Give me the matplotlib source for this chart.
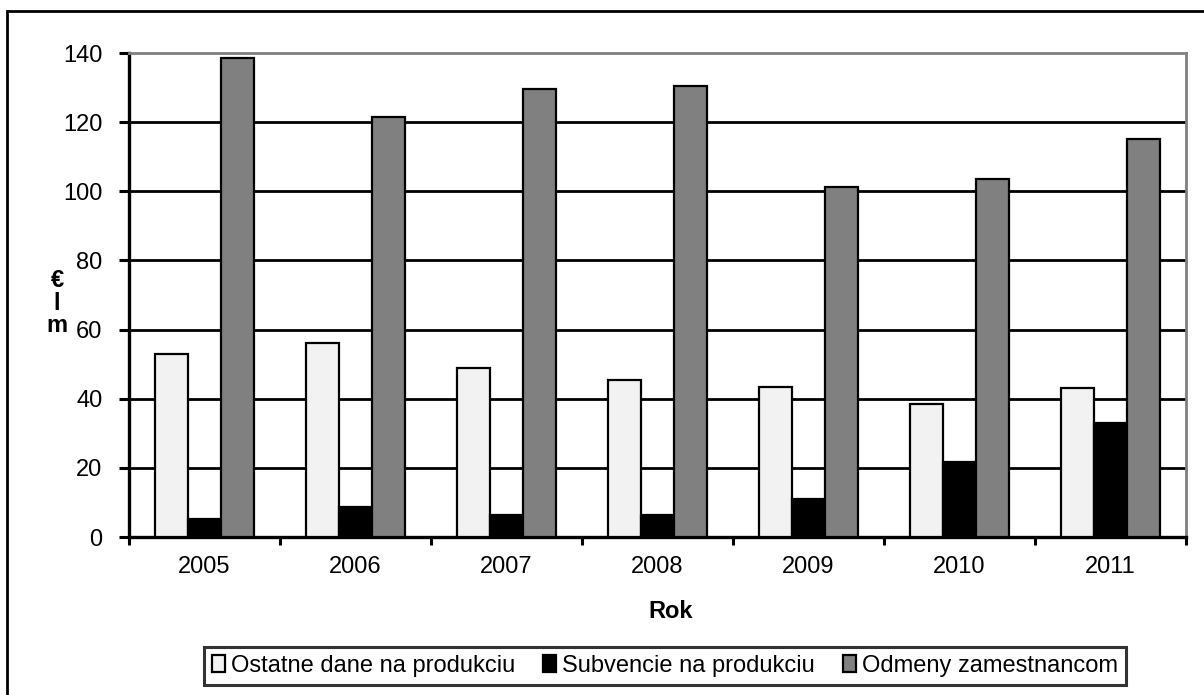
import numpy as np
import matplotlib.pyplot as plt
from matplotlib.patches import Rectangle

plt.rcParams['font.family'] = ['Liberation Sans', 'DejaVu Sans']

# Data
years = ['2005', '2006', '2007', '2008', '2009', '2010', '2011']
ostatne_dane = [53, 56, 49, 45.5, 43.5, 38.5, 43]
subvencie = [5.3, 8.7, 6.3, 6.3, 11, 21.8, 33]
odmeny = [138.5, 121.5, 129.5, 130.5, 101.3, 103.5, 115]
labels = ['Ostatne dane na produkciu', 'Subvencie na produkciu', 'Odmeny zamestnancom']
colors = ['#f2f2f2', '#000000', '#808080']

W, H = 1204, 695
fig = plt.figure(figsize=(W / 100, H / 100), dpi=100)
ax = fig.add_axes([129 / W, 1 - 537 / H, (1186 - 129) / W, (537 - 53) / H])

x = np.arange(len(years))
bw = 0.218
series = [ostatne_dane, subvencie, odmeny]
handles = []
for i, (vals, col, lab) in enumerate(zip(series, colors, labels)):
    b = ax.bar(x + (i - 1) * bw, vals, bw, color=col, edgecolor='black',
               linewidth=1.6, label=lab, zorder=3)
    handles.append(b)

ax.set_xlim(-0.5, len(years) - 0.5)
ax.set_ylim(0, 140)
ax.set_yticks(np.arange(0, 141, 20))
ax.set_xticks(x)
ax.set_xticklabels(years)
ax.set_xticks(np.arange(-0.5, len(years), 1), minor=True)

# horizontal gridlines
for yv in range(20, 140, 20):
    ax.axhline(yv, color='black', linewidth=2, zorder=1)

for side in ['left', 'bottom']:
    ax.spines[side].set_linewidth(2.4)
    ax.spines[side].set_color('black')
for side in ['top', 'right']:
    ax.spines[side].set_linewidth(2)
    ax.spines[side].set_color('#808080')

ax.tick_params(axis='y', which='major', direction='out', length=7, width=2.2,
               labelsize=17, pad=12)
ax.tick_params(axis='x', which='major', length=0, labelsize=17, pad=14)
ax.tick_params(axis='x', which='minor', direction='out', length=6, width=2.2)

fig.text(671 / W, 1 - 612 / H, 'Rok', fontsize=17, fontweight='bold',
         ha='center', va='center')
fig.text(57 / W, 1 - 303 / H, '€\nl\nm', fontsize=17, fontweight='bold',
         ha='center', va='center', linespacing=0.95)

leg = fig.legend(handles, labels, loc='center', ncol=3,
                 bbox_to_anchor=(665 / W, 1 - 666 / H), fontsize=17,
                 frameon=True, fancybox=False, edgecolor='black',
                 handlelength=0.55, handleheight=0.7, handletextpad=0.25,
                 columnspacing=1.2, borderpad=0.35)
leg.get_frame().set_linewidth(2.2)

# outer chart border (cut off at right and bottom)
fig.patches.append(Rectangle((7 / W, -0.05), 1.1, 1 - 11 / H + 0.05,
                             transform=fig.transFigure, fill=False,
                             edgecolor='black', linewidth=2, zorder=0))

fig.savefig('out.png', dpi=100)
